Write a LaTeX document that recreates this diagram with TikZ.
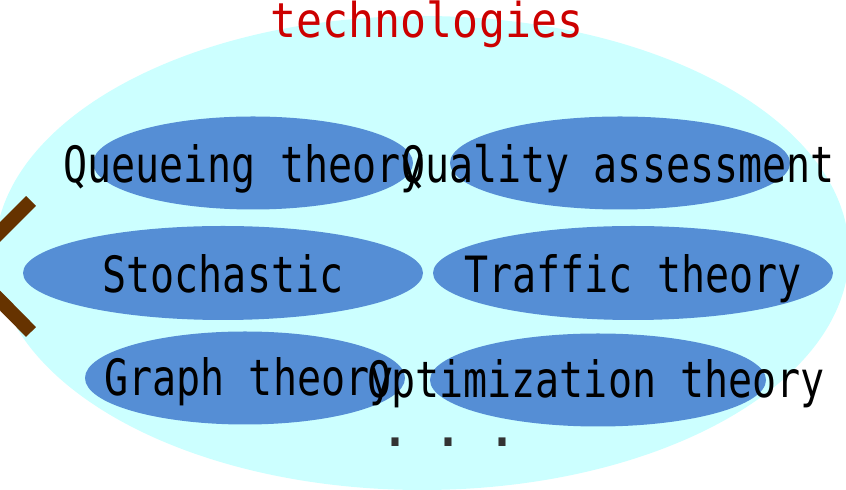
\documentclass[tikz,border=0pt]{standalone}
\usepackage{fontspec}
\setmainfont{DejaVu Sans Mono}[FakeStretch=0.8]
\newfontfamily\titlefont{DejaVu Sans Mono}[FakeStretch=0.9]
\usetikzlibrary{shapes, calc, positioning}

\definecolor{skyfill}{HTML}{CCFFFF}
\definecolor{techblue}{HTML}{558ED5}
\definecolor{titlered}{HTML}{CC0000}
\definecolor{bracketbrown}{HTML}{663300}
\definecolor{dotgray}{HTML}{333333}

\begin{document}
\begin{tikzpicture}[x=0.5pt, y=-0.5pt, font=\fontsize{25}{30}\selectfont,
    tech/.style={ellipse, fill=techblue, inner sep=0pt, minimum width=#1, minimum height=46.5pt},
    tlabel/.style={anchor=base, inner sep=0pt}]
\useasboundingbox (0,0) rectangle (846,490);

\node[ellipse, fill=skyfill, inner sep=0pt, minimum width=427pt, minimum height=237pt] (field) at (422,253) {};
\node[tlabel, text=titlered, font=\titlefont\fontsize{24}{30}\selectfont] (title) at (427,38) {technologies};

\draw[bracketbrown, line width=7pt, line cap=butt, miter limit=10] (31,201) -- (-34,266) -- (31,332);

\node[tech=160pt] (queue) at (253,163) {};
\node[tlabel] (queue-l) at (244,183) {Queueing theory};
\node[tech=170pt] (quality) at (620,163) {};
\node[tlabel] (quality-l) at (618,183) {Quality assessment};

\node[tech=200pt, minimum height=47pt] (stoch) at (223,273) {};
\node[tlabel] (stoch-l) at (223,293) {Stochastic};
\node[tech=200pt, minimum height=47pt] (traffic) at (633,273) {};
\node[tlabel] (traffic-l) at (633,293) {Traffic theory};

\node[tech=160pt] (graph) at (245,378) {};
\node[tlabel] (graph-l) at (249,396) {Graph theory};
\node[tech=168pt] (optim) at (598,380) {};
\node[tlabel] (optim-l) at (596,398) {Optimization theory};

\node[tlabel, text=dotgray, font=\titlefont\bfseries\fontsize{24}{30}\selectfont] (more) at (449,447) {.\hspace{13.5pt}.\hspace{13.5pt}.};

\end{tikzpicture}
\end{document}
